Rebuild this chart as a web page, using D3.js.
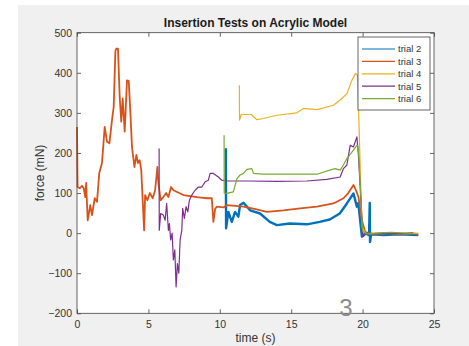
<!DOCTYPE html>
<html>
<head>
<meta charset="utf-8">
<script src="https://cdn.jsdelivr.net/npm/d3@7"></script>
<style>
  body { margin: 0; background: #fff; }
  text { font-family: "Liberation Sans", Arial, sans-serif; }
</style>
</head>
<body>
<svg id="chart" width="469" height="346"></svg>
<script>
// readings from the picture: [time (s), force (mN)]
const trial2 = [[10.42,212],[10.44,12],[10.6,53],[10.84,28],[11.07,53],[11.3,41],[11.42,70],[11.66,76],[12.12,57],[12.82,49],[13.5,28],[14.0,20],[14.9,24],[16.1,22],[17.0,28],[17.7,34],[18.4,49],[18.9,74],[19.36,99],[19.6,66],[19.7,75],[19.95,-9],[20.2,0],[20.45,-5],[20.5,75],[20.52,-22],[20.6,-3],[21.5,-5],[22.5,-3],[23.9,-5]];
const trial3 = [[0,265],[0.04,115],[0.2,112],[0.35,118],[0.47,112],[0.58,90],[0.64,125],[0.75,32],[0.93,70],[1.05,45],[1.24,87],[1.4,78],[1.56,150],[1.75,175],[1.94,265],[2.1,228],[2.27,224],[2.45,282],[2.57,315],[2.69,455],[2.75,460],[2.87,460],[2.99,340],[3.1,278],[3.2,336],[3.34,253],[3.5,381],[3.62,380],[3.74,300],[3.85,215],[4.02,165],[4.16,195],[4.27,175],[4.39,182],[4.5,157],[4.7,7],[4.77,95],[4.93,82],[5.1,100],[5.3,87],[5.47,107],[5.63,165],[5.7,125],[5.86,82],[6.05,90],[6.24,100],[6.4,90],[6.59,115],[6.75,107],[7.45,95],[8.4,90],[9.1,87],[9.44,87],[9.55,28],[9.67,60],[9.79,66],[10.26,64],[10.5,70],[11.66,66],[12.5,60],[13.3,53],[14.46,57],[15.63,62],[16.8,66],[17.96,74],[18.66,87],[19.0,100],[19.36,120],[19.5,110],[19.71,90],[19.95,32],[20.18,3],[20.5,-2],[21.5,0],[22.5,-2],[23.5,0],[23.9,-3]];
const trial4 = [[11.37,369],[11.38,282],[11.5,296],[12.2,296],[12.6,283],[13.05,286],[14.0,294],[15.4,300],[15.86,311],[16.8,308],[17.96,319],[18.43,332],[18.9,348],[19.25,381],[19.5,398],[19.65,394],[19.95,16],[20.2,0],[21,-2],[22,0],[23,-2],[23.9,0]];
const trial5 = [[5.75,211],[5.76,7],[5.86,49],[6.05,45],[6.17,32],[6.28,74],[6.4,7],[6.47,24],[6.56,-17],[6.66,0],[6.75,-67],[6.85,-42],[6.94,-134],[7.03,-76],[7.13,-100],[7.22,-17],[7.34,7],[7.4,62],[7.52,37],[7.64,66],[7.76,53],[7.87,82],[8.04,95],[8.27,107],[8.5,115],[8.74,115],[8.97,128],[9.2,132],[9.32,149],[9.55,149],[9.9,140],[10.14,132],[10.5,130],[12,130],[14,129],[16.1,130],[17.5,134],[18.43,140],[18.66,161],[18.9,170],[19.13,219],[19.36,215],[19.6,240],[19.7,199],[20.02,-9],[20.3,0],[21,-2],[22,0],[23,-1],[23.5,0]];
const trial6 = [[10.3,244],[10.31,100],[10.5,99],[10.95,103],[11.2,136],[11.42,145],[11.66,149],[11.9,159],[12.24,161],[12.36,149],[13,147],[16.8,147],[17.7,157],[18.08,161],[18.43,157],[18.66,170],[18.9,186],[19.36,207],[19.6,219],[19.65,219],[19.72,200],[20.0,5],[20.3,-2],[21,0],[22,2],[23,0],[23.5,-1]];

const seriesNames = ["trial 2", "trial 3", "trial 4", "trial 5", "trial 6"];
const seriesData = [trial2, trial3, trial4, trial5, trial6];
const colors = ["#0072BD", "#D95319", "#EDB120", "#7E2F8E", "#77AC30"];
const widths = [2.4, 1.8, 1.2, 1.2, 1.2];
const xTicks = [0, 5, 10, 15, 20, 25];
const yTicks = [-200, -100, 0, 100, 200, 300, 400, 500];

const svg = d3.select("#chart");
const plotL = 77, plotR = 434, plotT = 32.7, plotB = 313.3;

// figure background (white strip at left/top as in the capture)
svg.append("rect").attr("x", 18).attr("y", 5).attr("width", 451).attr("height", 341).attr("fill", "#f0f0f0");
svg.append("rect").attr("x", plotL).attr("y", plotT).attr("width", plotR - plotL).attr("height", plotB - plotT).attr("fill", "#fff");

const x = d3.scaleLinear().domain([0, 25]).range([plotL, plotR]);
const y = d3.scaleLinear().domain([-200, 500]).range([plotB, plotT]);

const line = d3.line().x(d => x(d[0])).y(d => y(d[1]));

svg.append("g")
  .selectAll("path")
  .data(seriesData)
  .enter()
  .append("path")
  .attr("d", line)
  .attr("fill", "none")
  .attr("stroke", (d, i) => colors[i])
  .attr("stroke-width", (d, i) => widths[i])
  .attr("stroke-linejoin", "round");

function styleAxis(g) {
  g.select(".domain").remove();
  g.selectAll(".tick line").attr("stroke", "#404040").attr("stroke-width", 0.8);
  g.selectAll(".tick text").attr("fill", "#333").style("font-size", "10.5px");
}

svg.append("g").attr("transform", `translate(0,${plotB})`)
  .call(d3.axisBottom(x).tickValues(xTicks).tickSize(-4).tickPadding(7))
  .call(styleAxis);
svg.append("g").attr("transform", `translate(${plotL},0)`)
  .call(d3.axisLeft(y).tickValues(yTicks).tickSize(-4).tickPadding(5))
  .call(styleAxis);
svg.append("g").attr("transform", `translate(0,${plotT})`)
  .call(d3.axisTop(x).tickValues(xTicks).tickSize(-4).tickFormat(""))
  .call(styleAxis);
svg.append("g").attr("transform", `translate(${plotR},0)`)
  .call(d3.axisRight(y).tickValues(yTicks).tickSize(-4).tickFormat(""))
  .call(styleAxis);

svg.append("rect")
  .attr("x", plotL).attr("y", plotT).attr("width", plotR - plotL).attr("height", plotB - plotT)
  .attr("fill", "none").attr("stroke", "#404040").attr("stroke-width", 0.8);

// title and axis labels
svg.append("text")
  .attr("x", (plotL + plotR) / 2).attr("y", 27)
  .attr("text-anchor", "middle")
  .style("font-size", "12px").style("font-weight", "bold")
  .attr("fill", "#1a1a1a")
  .text("Insertion Tests on Acrylic Model");

svg.append("text")
  .attr("x", (plotL + plotR) / 2).attr("y", 342)
  .attr("text-anchor", "middle")
  .style("font-size", "12px").attr("fill", "#333")
  .text("time (s)");

svg.append("text")
  .attr("transform", `translate(44,${(plotT + plotB) / 2}) rotate(-90)`)
  .attr("text-anchor", "middle")
  .style("font-size", "12px").attr("fill", "#333")
  .text("force (mN)");

// legend
const legend = svg.append("g");
legend.append("rect")
  .attr("x", 358).attr("y", 37).attr("width", 72).attr("height", 73)
  .attr("fill", "#fff").attr("stroke", "#404040").attr("stroke-width", 0.8);
const rows = legend.selectAll(".row").data(seriesNames).enter().append("g")
  .attr("class", "row")
  .attr("transform", (d, i) => `translate(0,${49 + i * 12.4})`);
rows.append("line")
  .attr("x1", 362).attr("x2", 395)
  .attr("stroke", (d, i) => colors[i]).attr("stroke-width", 1.2);
rows.append("text")
  .attr("x", 398).attr("dy", "0.35em")
  .style("font-size", "9.5px").attr("fill", "#333")
  .text(d => d);

// stray grey mark on the capture
svg.append("text")
  .attr("x", 346).attr("y", 316)
  .attr("text-anchor", "middle")
  .style("font-size", "24px").attr("fill", "#8c8c8c")
  .text("3");
</script>
</body>
</html>
